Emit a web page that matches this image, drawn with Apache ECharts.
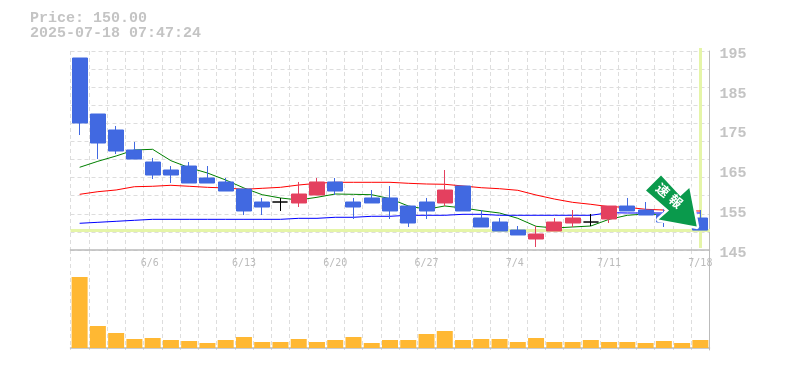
<!DOCTYPE html>
<html><head><meta charset="utf-8">
<style>html,body{margin:0;padding:0;background:#fff}#c{width:785px;height:370px}</style>
<script src="https://cdn.jsdelivr.net/npm/echarts@6/dist/echarts.min.js"></script>
</head><body><div id="c"></div>
<script>
const categories = ['6/2','6/3','6/4','6/5','6/6','6/9','6/10','6/11','6/12','6/13','6/16','6/17','6/18','6/19','6/20','6/23','6/24','6/25','6/26','6/27','6/30','7/1','7/2','7/3','7/4','7/7','7/8','7/9','7/10','7/11','7/14','7/15','7/16','7/17','7/18'];
const dateTicks = ['6/6','6/13','6/20','6/27','7/4','7/11','7/18'];
const opens = [193.24,179.17,175.15,170.13,167.11,165.10,166.10,163.09,162.09,160.33,157.06,157.06,156.81,158.82,162.09,157.06,158.07,158.07,156.05,157.06,156.81,161.08,153.04,152.03,150.02,147.76,149.77,151.78,152.03,152.79,156.05,155.05,154.05,154.55,153.04];
const closes = [176.91,171.88,169.87,167.86,163.84,163.84,161.83,161.83,159.82,154.80,155.80,157.06,159.07,162.09,159.82,155.80,156.81,154.80,151.78,154.80,160.07,154.80,150.78,149.77,148.77,149.02,152.03,153.04,152.03,156.05,154.80,153.79,152.03,152.03,150.00];
const lows = [173.89,167.86,169.12,167.86,162.84,161.83,161.83,161.83,159.82,153.79,153.79,154.80,155.80,158.82,158.82,152.79,156.81,152.79,150.78,152.79,156.05,154.80,150.78,149.77,148.77,145.75,149.77,150.78,151.03,151.78,154.80,153.79,150.78,151.03,150.00];
const highs = [193.24,179.17,176.16,172.14,168.12,166.10,167.11,166.10,163.09,160.33,158.07,158.07,162.09,163.09,163.09,158.07,160.07,161.08,156.05,158.07,165.10,161.08,155.05,153.04,151.03,151.03,153.04,155.05,154.05,156.05,158.07,157.06,155.55,155.30,155.05];
const volumes = [71,22,15,9,10,8,7,5,8,11,6,6,9,6,8,11,5,8,8,14,17,8,9,9,6,10,6,6,8,6,6,5,7,5,8];
const maShort = [167.3,161.3,156.0,150.0,149.3,160.7,167.7,173.0,180.0,188.0,194.7,198.0,200.0,197.3,194.0,194.3,194.7,198.7,206.0,209.3,206.0,208.0,210.7,213.0,218.3,226.3,228.0,227.0,226.0,219.3,215.3,214.0,214.7,217.0,221.0].map(toPrice);
const maMid = [194.3,191.7,190.0,186.7,186.3,185.3,186.3,187.3,188.0,189.3,188.3,187.3,185.0,183.3,182.3,182.3,182.3,182.3,183.3,184.0,184.3,186.0,187.7,188.7,190.3,195.0,199.0,202.3,204.3,206.7,207.3,209.3,210.0,211.0,211.0].map(toPrice);
const maLong = [223.3,222.3,221.3,220.3,219.3,219.3,219.3,219.3,219.3,219.3,219.3,219.3,218.3,218.3,217.3,217.3,216.3,216.3,215.3,215.3,215.3,214.3,214.3,215.3,215.3,215.3,215.3,215.3,215.3,212.7,213.0,213.0,213.0,213.0,213.0].map(toPrice);
const lastPrice = 150.00;
const priceLabel = 'Price: 150.00';
const stampLabel = '2025-07-18 07:47:24';
const arrowChars = ['速','報'];
function toPrice(y){return +(195-(y-51)*50/199).toFixed(2);}

const GREY='#bbbbbb', GRID='#dddddd', MONO='"Liberation Mono",monospace';
const gridX = {type:[4,3],color:GRID,width:1};
const arrowFont = {fontFamily:'"Noto Sans CJK JP"',fontSize:13,fontWeight:'bold',color:'#fff'};
const arrowPath = 'path://M15 0 L0 15 L23 35 L12.7 44 L50.7 51 L43.3 12.3 L34.3 20.7 Z';
const chart = echarts.init(document.getElementById('c'),null,{renderer:'canvas'});
chart.setOption({
 animation:false,
 backgroundColor:'#fff',
 title:[
  {text:priceLabel,left:25,top:6,textStyle:{fontFamily:MONO,fontSize:15,fontWeight:'bold',color:'#c4c4c4'}},
  {text:stampLabel,left:25,top:21,textStyle:{fontFamily:MONO,fontSize:15,fontWeight:'bold',color:'#c4c4c4'}}
 ],
 grid:[
  {left:70.5,top:51,width:639,height:199},
  {left:70.5,top:250,width:639,height:100}
 ],
 xAxis:[
  {type:'category',gridIndex:0,data:categories,boundaryGap:true,
   axisLine:{show:true,lineStyle:{color:GREY,width:1.5}},axisTick:{show:false},
   axisLabel:{show:true,interval:0,margin:8,fontFamily:'"DejaVu Sans Mono",monospace',fontSize:10,color:GREY,
     formatter:v=>!dateTicks.includes(v)?'':(v.length===3?'{s|'+v+'}':'{n|'+v+'}'),
     rich:{s:{padding:[0,6,0,0],fontFamily:'"DejaVu Sans Mono",monospace',fontSize:10,color:GREY},
           n:{fontFamily:'"DejaVu Sans Mono",monospace',fontSize:10,color:GREY}}},
   splitLine:{show:true,interval:0,lineStyle:gridX}},
  {type:'category',gridIndex:1,data:categories,boundaryGap:true,
   axisLine:{show:true,lineStyle:{color:GREY,width:1.5}},axisTick:{show:false},axisLabel:{show:false},
   splitLine:{show:true,interval:0,lineStyle:gridX}}
 ],
 yAxis:[
  {type:'value',gridIndex:0,position:'right',min:145,max:195,interval:5,scale:true,
   axisLine:{show:true,lineStyle:{color:GREY,width:1}},axisTick:{show:false},
   axisLabel:{margin:10,verticalAlign:'top',lineHeight:6,fontFamily:MONO,fontSize:15,fontWeight:'bold',color:'#c4c4c4',
     formatter:v=>((v-145)%10===0)?String(v):''},
   splitLine:{show:false}},
  {type:'value',gridIndex:0,min:0,max:11,interval:1,show:true,position:'left',
   axisLine:{show:false},axisTick:{show:false},axisLabel:{show:false},
   splitLine:{show:true,lineStyle:gridX}},
  {type:'value',gridIndex:1,min:-2,max:98,position:'right',
   axisLine:{show:true,lineStyle:{color:GREY,width:1}},axisTick:{show:false},axisLabel:{show:false},splitLine:{show:false}}
 ],
 series:[
  {type:'line',xAxisIndex:0,yAxisIndex:0,data:[],z:1,silent:true,clip:false,
   markLine:{silent:true,z:1,symbol:'none',label:{show:false},animation:false,
    lineStyle:{color:'#e5f5a8',width:3,type:'solid'},
    data:[
     [{coord:[categories[0],lastPrice],x:70.5},{coord:[categories[34],lastPrice],x:710}],
     [{coord:[categories[34],194],y:48,x:700.5},{coord:[categories[34],146],y:248,x:700.5}]
    ]}},
  {type:'line',xAxisIndex:0,yAxisIndex:0,z:2,data:maShort,symbol:'none',lineStyle:{color:'#008000',width:1}},
  {type:'line',xAxisIndex:0,yAxisIndex:0,z:2,data:maMid,symbol:'none',lineStyle:{color:'#ff0000',width:1}},
  {type:'line',xAxisIndex:0,yAxisIndex:0,z:2,data:maLong,symbol:'none',lineStyle:{color:'#0000ff',width:1}},
  {type:'candlestick',xAxisIndex:0,yAxisIndex:0,z:3,barWidth:15.5,clip:false,
   itemStyle:{color:'#e4405f',color0:'#4169e1',borderColor:'#e4405f',borderColor0:'#4169e1',borderColorDoji:'#000000',borderWidth:1},
   data:opens.map((o,i)=>[o,closes[i],lows[i],highs[i]]),
   markPoint:{silent:true,animation:false,z:6,
    data:[
    {
     coord:[categories[34],lastPrice],symbol:arrowPath,
     symbolSize:[50.7,51],symbolOffset:[-29,-29],
     itemStyle:{color:'#fff',borderColor:'#fff',borderWidth:5,borderJoin:'round'},
     label:{show:false}
    },
    {
     coord:[categories[34],lastPrice],symbol:arrowPath,
     symbolSize:[50.7,51],symbolOffset:[-29,-29],
     itemStyle:{color:'#0a9a4c'},
     label:{show:true,formatter:'{a|'+arrowChars[0]+'}{b|'+arrowChars[1]+'}',position:'inside',rotate:-40,offset:[-5,-3],
       rich:{a:{...arrowFont,padding:[0,4,0,0]},b:arrowFont}}
    }]}
  },
  {type:'bar',xAxisIndex:1,yAxisIndex:2,barWidth:16,z:3,data:volumes,itemStyle:{color:'#ffb833'}}
 ]
});
</script></body></html>
